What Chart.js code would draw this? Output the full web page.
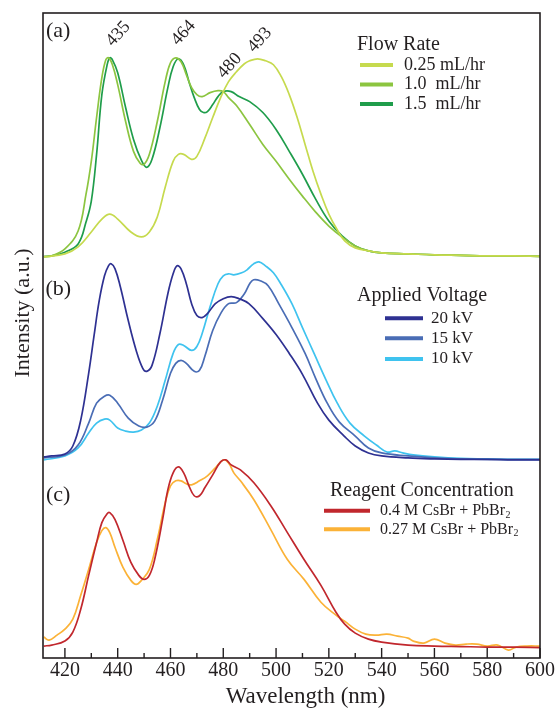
<!DOCTYPE html>
<html><head><meta charset="utf-8">
<script src="https://cdn.jsdelivr.net/npm/chart.js@4/dist/chart.umd.min.js"></script>
<style>html,body{margin:0;padding:0;background:#fff}#wrap{width:560px;height:709px}</style>
</head><body><div id="wrap"><canvas id="c" width="560" height="709"></canvas></div>
<script>
// ---------- DATA (wavelength in nm, intensity in a.u. above each panel's baseline) ----------
const seriesLabels = ['0.25 mL/hr', '1.0  mL/hr', '1.5  mL/hr', '20 kV', '15 kV', '10 kV', '0.4 M CsBr + PbBr\u2082', '0.27 M CsBr + PbBr\u2082'];
const panelOffsets = [403, 199, 10]; // vertical stacking offsets of panels (a), (b), (c)

const wl_a025 = [412,420,425,430,434,437,440,445,449,452,455,458,461,463,465,468,470,473,476,479,482,485,488,490,493,496,499,502,505,508,511,514,517,520,523,526,530,535,540,550,560,570,580,590,600];
const in_a025 = [0,3,10,25,38,43,38,25,20,25,40,70,96,103,103,98,101,119,140,160,176,186,194,197,199,197,193,181,163,140,113,86,63,43,28,16,9,6,4,3,2,1.5,1,1,0.5];

const wl_a10 = [412,415,420,425,428,430,432,434,435.5,436.5,438,440,443,446,448.5,450,452,455,458,460,462,464,466,468,470,472,475,478,480,482,485,490,495,500,505,510,515,520,525,530,535,540,550,560,570,580,590,600];
const in_a10 = [0.3,1,8,26,63,96,140,180,198,200,193,173,136,106,94,93,103,136,176,195,200,196,183,170,163,161,165,167,166,160,152,133,113,96,78,61,45,31,20,11,6,4,3,2,1.5,1,1,0.5];

const wl_a15 = [412,415,420,425,428,430,432,434,436,437,438,440,443,446,449,451,453,456,459,461,463,465,467,469,471,472.5,474,476,478,480,483,486,490,495,500,505,510,515,520,525,530,535,540,550,560,570,580,590,600];
const in_a15 = [0.3,1,4.7,13,35,56,103,163,193,200,198,185,150,118,97,90,98,130,170,191,199,193,176,160,148,145,146,153,161,166,166,161,156,145,128,106,83,58,36,21,11,6,4,3,2,1.5,1,1,0.5];

const wl_b20 = [412,415,420,423,426,429,431,433,435,436.5,437.5,439,441,444,447,449.5,451,453,456,459,461,462.5,464,466,468,470,472,474,477,480,483,486,489.7,495,500,505,510,515.7,520,525.8,530,535,540,550,560,570,580,590,600];
const in_b20 = [3,4,6,14,40,87,124,160,185,195,197,192,174,140,110,92,89,95,127,167,187,195,192,177,157,145,143,147,157,162,164,162,157,142,126,107,86,57,40,24,14,7,4,2,1,0.5,0.5,0,0];

const wl_b15 = [412,420,425,429,432,435,437,440,444,448,451,454,457,460,462,464,466,469,471,473,476,479,482,485,488,490,491.5,494,497,501,506,511,515,519.4,524,530,535,540,550,560,570,580,590,600];
const in_b15 = [2,5,15,37,57,64,65,57,42,34,33,39,60,87,97,100,97,89,90,104,130,147,157,158,167,177,181,180,175,157,133,107,82,57,38,24,12,7,4,2,1,0.5,0.5,0.5];

const wl_b10 = [412,420,425,429,432,435,437,440,443,446,449,452,455,458,461,463,465,468,470,472,475,478,480,482,484,487,489,491.5,493.5,496,499,502,506,510,514.4,519,523.2,528,533.5,538,542,545,548,552,560,570,580,590,600];
const in_b10 = [0,4,12,27,37,41,40,32,29,28,30,37,54,80,107,116,115,110,114,127,154,177,185,187,186,188,191,197,199,195,188,176,157,133,107,80,57,37,24,15,8,9,7,5,3,1.5,1,0.5,0.5];

const wl_c04 = [412,415,420,423,426,429,432,434,436,437,439,442,445,448,450,452,454,457,459,461,463,465,467,469,471,473,476,479,481,483,486.5,491.6,498,504.3,510.6,517,522.7,526,530,535,540,550,560,570,580,590,600];
const in_c04 = [2,3,7,16,39,73,106,126,135,136,129,108,86,73,69,73,89,129,159,176,182,176,163,153,153,161,174,187,189,184,179,166,143,116,89,63,36,24,15,9,6,3,2,1.5,1,1,0.5];

const wl_c027 = [412,414,417,420,423,426,429,432,434,435.5,437,439,442,445,447,449,452,455,458,460,462,464,466,468,471,474,477,480,482,484,486.5,491.6,498,504.3,510.6,517,522.7,526,530,534,538,542,546,550,552,556,560,564,568,572,576,580,584,588,591,595,600];
const in_c027 = [11,8,13,19,29,53,79,106,118,121,116,101,81,68,64,68,79,109,146,163,168,168,165,164,168,173,181,189,186,176,168,149,119,89,69,46,33,27,19,14,13,14,12,10,7,5,9,5,3,4,4,2,3,-2,1,2,2];

const xTickValues = [420,440,460,480,500,520,540,560,580,600];
const peakLabels = ['435','464','480','493'];
const peakLabelWl = [440.2,464.9,482.4,493.8];
const peakLabelY = [627,628,595,621];

// ---------- BUILD ----------
const seriesWl = [wl_a025, wl_a10, wl_a15, wl_b20, wl_b15, wl_b10, wl_c04, wl_c027];
const seriesIn = [in_a025, in_a10, in_a15, in_b20, in_b15, in_b10, in_c04, in_c027];
const seriesPanel = [0,0,0,1,1,1,2,2];
const seriesColors = ['#c6da4e','#8cc540','#1f9d4b','#2e3192','#4a6db5','#3fc3ef','#c1272d','#fbb237'];

const datasets = seriesWl.map((wl, i) => ({
  label: seriesLabels[i],
  data: wl.map((x, k) => ({x: x, y: seriesIn[i][k] + panelOffsets[seriesPanel[i]]})),
  borderColor: seriesColors[i],
  borderWidth: 1.7,
  pointRadius: 0,
  fill: false,
  tension: 0.4
}));

const FONT = "'Liberation Serif', 'Times New Roman', serif";
const INK = '#231f20';

const legendGroups = [
  {title: 'Flow Rate', sets: [0,1,2], tx: 357, ty: 45, x1: 360, x2: 393, textX: 404, rows: [65, 84.5, 104], size: 18},
  {title: 'Applied Voltage', sets: [3,4,5], tx: 357, ty: 296, x1: 385, x2: 423, textX: 431, rows: [318.3, 338.3, 359], size: 17},
  {title: 'Reagent Concentration', sets: [6,7], tx: 330, ty: 491, x1: 324, x2: 370, textX: 380, rows: [510.7, 529.3], size: 16}
];

function drawSubText(ctx, text, x, y, size) {
  const parts = text.split('\u2082');
  ctx.font = size + 'px ' + FONT;
  ctx.fillText(parts[0], x, y);
  if (parts.length > 1) {
    const w = ctx.measureText(parts[0]).width;
    ctx.font = Math.round(size * 0.62) + 'px ' + FONT;
    ctx.fillText('2', x + w + 0.5, y + size * 0.28);
  }
}

const decor = {
  id: 'decor',
  afterDraw(chart) {
    const ctx = chart.ctx, a = chart.chartArea, xs = chart.scales.x, ys = chart.scales.y;
    ctx.save();
    // frame
    ctx.strokeStyle = INK; ctx.lineWidth = 1.6;
    ctx.strokeRect(a.left, a.top, a.right - a.left, a.bottom - a.top);
    // inward ticks
    ctx.lineWidth = 1.4;
    xs.ticks.forEach(t => {
      const px = xs.getPixelForValue(t.value);
      const len = (t.value % 20 === 0) ? 10 : 5;
      ctx.beginPath(); ctx.moveTo(px, a.bottom); ctx.lineTo(px, a.bottom - len); ctx.stroke();
    });
    ctx.fillStyle = INK;
    // axis titles
    ctx.font = '23px ' + FONT; ctx.textAlign = 'center'; ctx.textBaseline = 'alphabetic';
    ctx.fillText('Wavelength (nm)', 305.5, 703);
    ctx.save(); ctx.translate(23, 313); ctx.rotate(-Math.PI / 2);
    ctx.font = '22px ' + FONT; ctx.textBaseline = 'middle';
    ctx.fillText('Intensity (a.u.)', 0, 0); ctx.restore();
    // panel labels
    ctx.font = '22px ' + FONT; ctx.textAlign = 'left'; ctx.textBaseline = 'middle';
    ctx.fillText('(a)', 46, 31); ctx.fillText('(b)', 45.5, 289); ctx.fillText('(c)', 46, 495);
    // peak labels
    ctx.font = '18px ' + FONT; ctx.textAlign = 'center';
    peakLabels.forEach((s, i) => {
      ctx.save();
      ctx.translate(xs.getPixelForValue(peakLabelWl[i]), ys.getPixelForValue(peakLabelY[i]));
      ctx.rotate(-48 * Math.PI / 180);
      ctx.fillText(s, 0, 0);
      ctx.restore();
    });
    // legends
    legendGroups.forEach(g => {
      ctx.fillStyle = INK; ctx.textAlign = 'left'; ctx.textBaseline = 'middle';
      ctx.font = '20px ' + FONT; ctx.fillText(g.title, g.tx, g.ty);
      g.sets.forEach((di, r) => {
        const ds = chart.data.datasets[di];
        ctx.strokeStyle = ds.borderColor; ctx.lineWidth = 4; ctx.lineCap = 'butt';
        ctx.beginPath(); ctx.moveTo(g.x1, g.rows[r]); ctx.lineTo(g.x2, g.rows[r]); ctx.stroke();
        ctx.fillStyle = INK;
        drawSubText(ctx, ds.label, g.textX, g.rows[r], g.size);
      });
    });
    ctx.restore();
  }
};

new Chart(document.getElementById('c'), {
  type: 'line',
  data: {datasets},
  options: {
    responsive: false,
    animation: false,
    layout: {padding: {left: 43, right: 20, top: 13, bottom: 25}},
    plugins: {legend: {display: false}, tooltip: {enabled: false}},
    scales: {
      x: {
        type: 'linear', min: 411.7, max: 600,
        grid: {display: false, drawTicks: false},
        border: {display: false},
        ticks: {
          stepSize: 10, includeBounds: false, autoSkip: false, maxRotation: 0, padding: 3,
          color: INK, font: {family: FONT, size: 20, lineHeight: 1},
          callback: v => xTickValues.includes(v) ? String(v) : ''
        }
      },
      y: {display: false, min: 0, max: 648}
    }
  },
  plugins: [decor]
});
</script></body></html>
